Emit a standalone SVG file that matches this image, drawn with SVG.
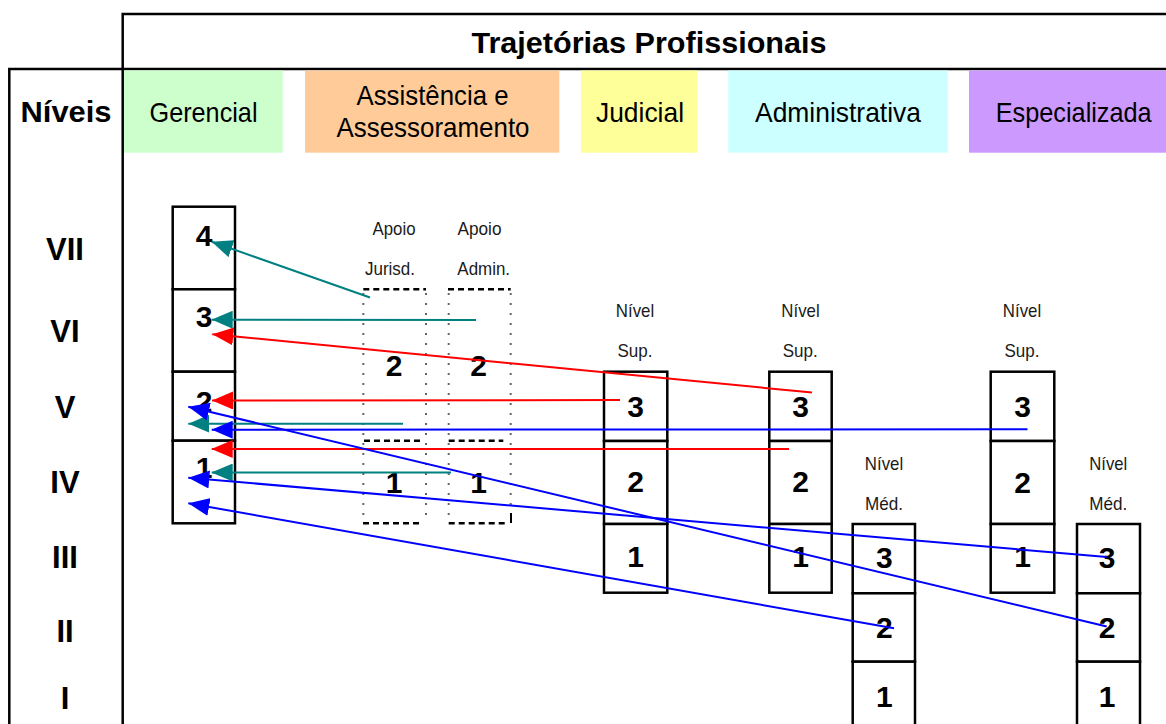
<svg xmlns="http://www.w3.org/2000/svg" width="1166" height="724" viewBox="0 0 1166 724">
<style>
.frame{stroke:#000;stroke-width:2.5;fill:none}
.box{fill:#fff;stroke:#000;stroke-width:2.5}
.t{font-family:"Liberation Sans",Arial,sans-serif;fill:#000}
.num{font-size:30px;font-weight:bold;text-anchor:middle}
.lvl{font-size:31px;font-weight:bold;text-anchor:middle}
.hdr{font-size:28px;text-anchor:middle}
.sm{font-size:19px;text-anchor:middle;fill:#1a1a1a}
.dash{stroke:#000;stroke-width:2.5;stroke-dasharray:6 4;fill:none}
.dot{stroke:#666;stroke-width:2;stroke-dasharray:2 8;fill:none}
.teal{stroke:#008080;stroke-width:2;fill:none;marker-end:url(#mt)}
.red{stroke:#ff0000;stroke-width:2;fill:none;marker-end:url(#mr)}
.blue{stroke:#0000ff;stroke-width:2;fill:none;marker-end:url(#mb)}
</style>
<defs>
<marker id="mt" markerUnits="userSpaceOnUse" markerWidth="21" markerHeight="18" refX="21" refY="9" orient="auto"><path d="M0,0 L21,9 L0,18 Z" fill="#008080"/></marker>
<marker id="mr" markerUnits="userSpaceOnUse" markerWidth="21" markerHeight="18" refX="21" refY="9" orient="auto"><path d="M0,0 L21,9 L0,18 Z" fill="#ff0000"/></marker>
<marker id="mb" markerUnits="userSpaceOnUse" markerWidth="21" markerHeight="18" refX="21" refY="9" orient="auto"><path d="M0,0 L21,9 L0,18 Z" fill="#0000ff"/></marker>
</defs>
<rect width="1166" height="724" fill="#fff"/>

<g id="frame">
<path class="frame" d="M122.7,724 V14 H1166 M9.3,724 V69 H1166"/>
<text class="t" x="649" y="53" font-size="30" font-weight="bold" text-anchor="middle" textLength="355" lengthAdjust="spacingAndGlyphs">Trajetórias Profissionais</text>
</g>

<g id="hdr-niveis"><text class="t" x="66" y="122" font-size="30" font-weight="bold" text-anchor="middle" textLength="91" lengthAdjust="spacingAndGlyphs">Níveis</text></g>
<g id="hdr-gerencial"><rect x="124" y="70.5" width="158.7" height="82.2" fill="#CCFFCC"/><text class="t hdr" x="203.5" y="122" textLength="108" lengthAdjust="spacingAndGlyphs">Gerencial</text></g>
<g id="hdr-assistencia"><rect x="305" y="70.5" width="254.3" height="82.2" fill="#FFCC99"/><text class="t hdr" x="432.5" y="105" textLength="152" lengthAdjust="spacingAndGlyphs">Assistência e</text><text class="t hdr" x="433" y="137" textLength="193" lengthAdjust="spacingAndGlyphs">Assessoramento</text></g>
<g id="hdr-judicial"><rect x="581" y="70.5" width="116.5" height="82.2" fill="#FFFF99"/><text class="t hdr" x="640" y="122" textLength="88" lengthAdjust="spacingAndGlyphs">Judicial</text></g>
<g id="hdr-administrativa"><rect x="728.3" y="70.5" width="219.4" height="82.2" fill="#CCFFFF"/><text class="t hdr" x="838" y="122" textLength="166" lengthAdjust="spacingAndGlyphs">Administrativa</text></g>
<g id="hdr-especializada"><rect x="969" y="70.5" width="197" height="82.2" fill="#CC99FF"/><text class="t hdr" x="1073.7" y="122" textLength="156" lengthAdjust="spacingAndGlyphs">Especializada</text></g>

<g id="levels">
<text class="t lvl" x="65" y="260">VII</text>
<text class="t lvl" x="65" y="342">VI</text>
<text class="t lvl" x="65" y="418">V</text>
<text class="t lvl" x="65" y="493">IV</text>
<text class="t lvl" x="65" y="568">III</text>
<text class="t lvl" x="65" y="642">II</text>
<text class="t lvl" x="65" y="709">I</text>
</g>

<g id="col-gerencial">
<rect class="box" x="172.7" y="206.7" width="62.3" height="82.6"/>
<rect class="box" x="172.7" y="289.3" width="62.3" height="82.4"/>
<rect class="box" x="172.7" y="371.7" width="62.3" height="69"/>
<rect class="box" x="172.7" y="440.7" width="62.3" height="82.6"/>
<text class="t num" x="204" y="246">4</text>
<text class="t num" x="204" y="327">3</text>
<text class="t num" x="204" y="412">2</text>
<text class="t num" x="204" y="478">1</text>
</g>

<g id="col-apoio-jurisd">
<text class="t sm" x="394" y="235" textLength="43" lengthAdjust="spacingAndGlyphs">Apoio</text>
<text class="t sm" x="390" y="275" textLength="50" lengthAdjust="spacingAndGlyphs">Jurisd.</text>
<path class="dot" d="M363.3,293 V523 M426,293 V523"/>
<path class="dash" d="M363.3,289.3 H426 M364,440.7 H423 M363,523.3 H423"/>
<text class="t num" x="394" y="375.5">2</text>
<text class="t num" x="394" y="492.5">1</text>
</g>

<g id="col-apoio-admin">
<text class="t sm" x="479.5" y="235" textLength="44" lengthAdjust="spacingAndGlyphs">Apoio</text>
<text class="t sm" x="483.7" y="275" textLength="52.7" lengthAdjust="spacingAndGlyphs">Admin.</text>
<path class="dot" d="M448.7,293 V523 M510.7,293 V513"/>
<path class="dash" d="M448,289.3 H510.7 M448.7,440.7 H503.3 M448.7,523.3 H506.7"/>
<path d="M511,513 V523" stroke="#000" stroke-width="2"/>
<text class="t num" x="478.5" y="375.5">2</text>
<text class="t num" x="478.5" y="492.5">1</text>
</g>

<g id="col-judicial-sup">
<text class="t sm" x="635" y="317" textLength="38.3" lengthAdjust="spacingAndGlyphs">Nível</text>
<text class="t sm" x="635" y="357" textLength="35" lengthAdjust="spacingAndGlyphs">Sup.</text>
<rect class="box" x="604" y="371.7" width="63.3" height="69.3"/>
<rect class="box" x="604" y="441" width="63.3" height="83"/>
<rect class="box" x="604" y="524" width="63.3" height="68.7"/>
<text class="t num" x="635.5" y="417">3</text>
<text class="t num" x="635.5" y="492">2</text>
<text class="t num" x="635.5" y="567">1</text>
</g>

<g id="col-administrativa-sup">
<text class="t sm" x="800.5" y="317" textLength="38.3" lengthAdjust="spacingAndGlyphs">Nível</text>
<text class="t sm" x="800.2" y="357" textLength="35" lengthAdjust="spacingAndGlyphs">Sup.</text>
<rect class="box" x="769.3" y="371.7" width="62.4" height="69.3"/>
<rect class="box" x="769.3" y="441" width="62.4" height="83"/>
<rect class="box" x="769.3" y="524" width="62.4" height="68.7"/>
<text class="t num" x="800.5" y="417">3</text>
<text class="t num" x="800.5" y="492">2</text>
<text class="t num" x="800.5" y="567">1</text>
</g>

<g id="col-especializada-sup">
<text class="t sm" x="1022" y="317" textLength="38.3" lengthAdjust="spacingAndGlyphs">Nível</text>
<text class="t sm" x="1022" y="357" textLength="35" lengthAdjust="spacingAndGlyphs">Sup.</text>
<rect class="box" x="990.7" y="371.7" width="63.6" height="69.3"/>
<rect class="box" x="990.7" y="441" width="63.6" height="83"/>
<rect class="box" x="990.7" y="524" width="63.6" height="68.7"/>
<text class="t num" x="1022.5" y="417">3</text>
<text class="t num" x="1022.5" y="493">2</text>
<text class="t num" x="1022.5" y="567">1</text>
</g>

<g id="col-administrativa-med">
<text class="t sm" x="884" y="469.5" textLength="38.3" lengthAdjust="spacingAndGlyphs">Nível</text>
<text class="t sm" x="884" y="510" textLength="38" lengthAdjust="spacingAndGlyphs">Méd.</text>
<rect class="box" x="852.7" y="524" width="62.3" height="69.3"/>
<rect class="box" x="852.7" y="593.3" width="62.3" height="68.4"/>
<rect class="box" x="852.7" y="661.7" width="62.3" height="70"/>
<text class="t num" x="884.3" y="568.3">3</text>
<text class="t num" x="884.3" y="638.3">2</text>
<text class="t num" x="884.3" y="706.7">1</text>
</g>

<g id="col-especializada-med">
<text class="t sm" x="1108.3" y="469.5" textLength="38" lengthAdjust="spacingAndGlyphs">Nível</text>
<text class="t sm" x="1108.3" y="510" textLength="38" lengthAdjust="spacingAndGlyphs">Méd.</text>
<rect class="box" x="1077" y="524" width="63" height="69.3"/>
<rect class="box" x="1077" y="593.3" width="63" height="68.4"/>
<rect class="box" x="1077" y="661.7" width="63" height="70"/>
<text class="t num" x="1107" y="568.3">3</text>
<text class="t num" x="1107" y="638.3">2</text>
<text class="t num" x="1107" y="706.7">1</text>
</g>

<g id="connectors">
<path class="teal" d="M370,297.5 L211.7,241.7"/>
<path class="teal" d="M476,320 L211.7,319.7"/>
<path class="red" d="M812,392.5 L212.3,334.3"/>
<path class="red" d="M620,400 L212,400.5"/>
<path class="teal" d="M403,423.7 L188.3,423.7"/>
<path class="blue" d="M1027.5,429.3 L211.7,429.7"/>
<path class="red" d="M789,449 L211.7,449"/>
<path class="teal" d="M451,472.5 L211.7,472.5"/>
<path class="blue" d="M1106.7,626.5 L188.3,406.7"/>
<path class="blue" d="M1106.7,557 L188.3,477.7"/>
<path class="blue" d="M894,628.3 L188.3,503.3"/>
</g>
</svg>
